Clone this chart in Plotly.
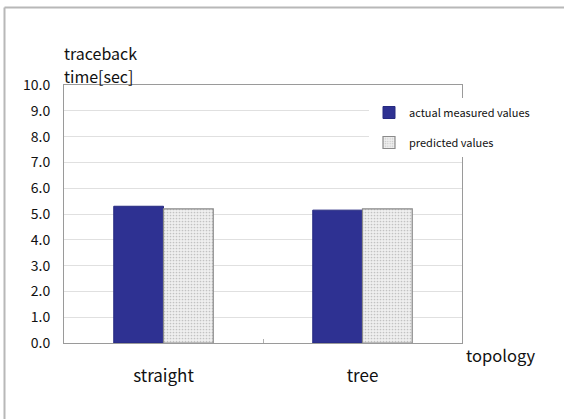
import plotly.graph_objects as go

# Traceback time per topology
categories = ["straight", "tree"]
actual_values = [5.3, 5.15]
predicted_values = [5.2, 5.2]
y_ticks = [0, 1, 2, 3, 4, 5, 6, 7, 8, 9, 10]
y_tick_labels = [f"{v:.1f}" for v in y_ticks]

FONT = "Noto Sans CJK JP"
W, H = 564, 419
L, R, T, B = 64, 102, 85, 76
PW, PH = W - L - R, H - T - B

fig = go.Figure()
fig.add_trace(go.Bar(
    x=categories, y=actual_values, name="actual measured values",
    legendgroup="a",
    marker=dict(color="#2e3192", line=dict(color="#262a80", width=1)),
))
fig.add_trace(go.Bar(
    x=categories, y=predicted_values, name="predicted values",
    legendgroup="p",
    marker=dict(
        color="#ececec",
        line=dict(color="#8a8a8a", width=1.2),
        pattern=dict(shape=".", fgcolor="#c2c2c2", bgcolor="#efefef",
                     size=3, solidity=0.25, fillmode="replace"),
    ),
))

# pixel -> paper helpers for decorations outside the plot area
def px_x(px):
    return (px - L) / PW

def px_y(py):
    return 1 - (py - T) / PH

frame = dict(color="#b8b8b8", width=2)

fig.update_layout(
    width=W, height=H,
    margin=dict(l=L, r=R, t=T, b=B, autoexpand=False),
    paper_bgcolor="white", plot_bgcolor="white",
    font=dict(family=FONT, color="#111", size=13),
    barmode="group", bargap=0.5, bargroupgap=0,
    showlegend=True,
    legend=dict(
        x=px_x(369), y=px_y(98), xanchor="left", yanchor="top",
        bgcolor="white", borderwidth=0,
        font=dict(family=FONT, size=11, color="#111"),
        itemwidth=30, traceorder="grouped", tracegroupgap=11,
    ),
    xaxis=dict(
        showgrid=False, showline=True, linecolor="#9a9a9a", linewidth=1,
        mirror=True, ticks="inside", ticklen=4, tickcolor="#b0b0b0",
        tickson="boundaries", ticklabelstandoff=18,
        tickfont=dict(family=FONT, size=17, color="#111"),
    ),
    yaxis=dict(
        range=[0, 10], tickvals=y_ticks, ticktext=y_tick_labels,
        showgrid=True, gridcolor="#e0e0e0", gridwidth=1,
        showline=True, linecolor="#9a9a9a", linewidth=1, mirror=True,
        ticks="", ticklabelstandoff=10, zeroline=False,
        tickfont=dict(family=FONT, size=14, color="#111"),
    ),
    shapes=[
        # outer frame: left and top edges
        dict(type="line", xref="paper", yref="paper",
             x0=px_x(4.5), y0=px_y(7.5), x1=px_x(4.5), y1=px_y(430),
             line=frame, layer="below"),
        dict(type="line", xref="paper", yref="paper",
             x0=px_x(4.5), y0=px_y(7.5), x1=px_x(564), y1=px_y(7.5),
             line=frame, layer="below"),
    ],
    annotations=[
        dict(text="traceback", xref="paper", yref="paper",
             x=px_x(62), y=px_y(53), xanchor="left", yanchor="middle",
             showarrow=False,
             font=dict(family=FONT, size=16, color="#111")),
        dict(text="time[sec]", xref="paper", yref="paper",
             x=px_x(62), y=px_y(76), xanchor="left", yanchor="middle",
             showarrow=False,
             font=dict(family=FONT, size=16, color="#111")),
        dict(text="topology", xref="paper", yref="paper",
             x=px_x(464), y=px_y(355), xanchor="left", yanchor="middle",
             showarrow=False,
             font=dict(family=FONT, size=16.5, color="#111")),
    ],
)

# keep the page free of scrollbars around the fixed-size figure
fig.write_html(
    "out.html",
    config=dict(displayModeBar=False),
    post_script="document.body.style.margin='0';"
                "document.body.style.overflow='hidden';",
)
